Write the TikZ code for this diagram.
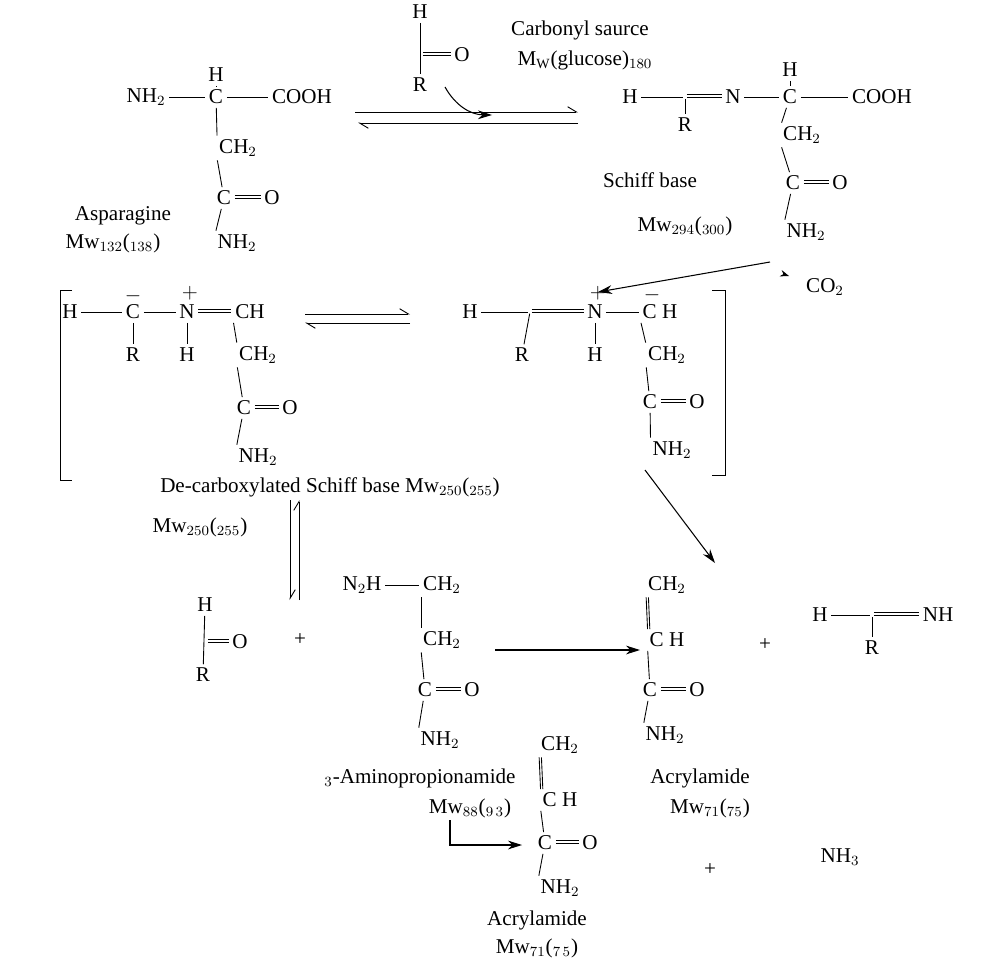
\documentclass[tikz,border=0pt]{standalone}
\usepackage{fontspec}
\setmainfont{Liberation Serif}
\usetikzlibrary{arrows.meta}
\tikzset{
  atm/.style={inner sep=1pt, font=\fontsize{12}{14}\selectfont},
  lbl/.style={inner sep=1pt, font=\fontsize{12}{14}\selectfont},
  bd/.style={line width=0.5pt, shorten <=1pt, shorten >=1pt},
  dbh/.style={bd, transform canvas={yshift=1.3pt}, postaction={draw, transform canvas={yshift=-1.3pt}}},
  dbv/.style={bd, transform canvas={xshift=1.3pt}, postaction={draw, transform canvas={xshift=-1.3pt}}},
  rx/.style={-{Stealth[length=8pt,width=5pt]}, line width=0.6pt},
  hp/.style={-{Straight Barb[left,length=5pt,width=6pt]}, line width=0.5pt},
}
\begin{document}
\begin{tikzpicture}[x=0.02cm, y=-0.02cm]
	\useasboundingbox (0,0) rectangle (1006,963);
	% Asparagine
	\node[atm](a1) at (146,97){NH$_2$};
	\node[atm](a2) at (216,97){C};
	\node[atm](a3) at (216,75){H};
	\node[atm](a4) at (302,97){COOH};
	\node[atm](a5) at (238,148){CH$_2$};
	\node[atm](a6) at (224,198){C};
	\node[atm](a7) at (272,198){O};
	\node[atm](a8) at (237,243){NH$_2$};
	\node[lbl] at (123,216){Asparagine};
	\node[lbl] at (113,243){Mw$_{132}$($_{138}$)};
	\draw[bd] (a1) -- (a2); \draw[bd] (a2) -- (a4); \draw[bd] (a3) -- (a2);
	\draw[bd] (a2) -- (a5.north west); \draw[bd] (a5.south west) -- (a6);
	\draw[dbh] (a6) -- (a7); \draw[bd] (a6) -- (a8.north west);
	% carbonyl source
	\node[atm](b1) at (420,12){H};
	\node[atm](b3) at (462,55){O};
	\node[atm](b4) at (420,85){R};
	\coordinate (b2) at (421,55);
	\draw[bd] (b1) -- (b4); \draw[dbh] (b2) -- (b3);
	\node[lbl] at (580,30){Carbonyl saurce};
	\node[lbl] at (585,60){M$_\mathrm{W}$(glucose)$_{180}$};
	\coordinate (c1) at (445,87); \coordinate (c2) at (492,115);
	\draw[rx] (c1) to[bend right=30] (c2);
	\coordinate (e1) at (355,112); \coordinate (e2) at (578,112);
	\coordinate (e3) at (578,123); \coordinate (e4) at (358,123);
	\draw[hp] (e1) -- (e2); \draw[hp] (e3) -- (e4);
	% Schiff base
	\node[atm](s1) at (630,97){H};
	\coordinate (s2) at (685,97);
	\node[atm](s3) at (685,125){R};
	\node[atm](s4) at (733,97){N};
	\node[atm](s5) at (790,97){C};
	\node[atm](s6) at (790,70){H};
	\node[atm](s7) at (882,97){COOH};
	\node[atm](s8) at (802,135){CH$_2$};
	\node[atm](s9) at (793,183){C};
	\node[atm](s10) at (840,183){O};
	\node[atm](s11) at (806,232){NH$_2$};
	\node[lbl] at (650,180){Schiff base};
	\node[lbl] at (685,226){Mw$_{294}$($_{300}$)};
	\draw[bd] (s1) -- (s2); \draw[dbh] (s2) -- (s4); \draw[bd] (s2) -- (s3);
	\draw[bd] (s4) -- (s5); \draw[bd] (s5) -- (s7); \draw[bd] (s6) -- (s5);
	\draw[bd] (s5) -- (s8.north west); \draw[bd] (s8.south west) -- (s9);
	\draw[dbh] (s9) -- (s10); \draw[bd] (s9) -- (s11.north west);
	\coordinate (f1) at (770,262); \coordinate (f2) at (598,292);
	\draw[rx] (f1) -- (f2);
	\node[lbl](co) at (825,287){CO$_2$};
	\coordinate (g1) at (783,274);
	\draw[-{Stealth[length=5pt]}] (g1) -- ++(6,2);
	% left bracket
	\draw[line width=0.5pt] (72,290) -- (60,290) -- (60,480) -- (72,480);
	\node[atm](l1) at (70,312){H};
	\node[atm](l2) at (133,312){C};
	\node[atm] at (133,296){$-$};
	\node[atm](l3) at (133,355){R};
	\node[atm](l4) at (187,312){N};
	\node[atm] at (190,293){$+$};
	\node[atm](l5) at (187,355){H};
	\node[atm](l6) at (250,312){CH};
	\node[atm](l7) at (258,355){CH$_2$};
	\node[atm](l8) at (244,408){C};
	\node[atm](l9) at (290,408){O};
	\node[atm](l10) at (258,457){NH$_2$};
	\draw[bd] (l1) -- (l2); \draw[bd] (l2) -- (l4); \draw[dbh] (l4) -- (l6);
	\draw[bd] (l2) -- (l3); \draw[bd] (l4) -- (l5);
	\draw[bd] (l6.south west) -- (l7.north west); \draw[bd] (l7.south west) -- (l8);
	\draw[dbh] (l8) -- (l9); \draw[bd] (l8) -- (l10.north west);
	\node[lbl] at (330,487){De-carboxylated Schiff base Mw$_{250}$($_{255}$)};
	\coordinate (h1) at (305,314); \coordinate (h2) at (410,314);
	\coordinate (h3) at (410,323); \coordinate (h4) at (305,323);
	\draw[hp] (h1) -- (h2); \draw[hp] (h3) -- (h4);
	% right bracket
	\node[atm](r1) at (470,312){H};
	\coordinate (r2) at (530,312);
	\node[atm](r3) at (522,355){R};
	\node[atm](r4) at (595,312){N};
	\node[atm] at (598,293){$+$};
	\node[atm](r5) at (595,355){H};
	\node[atm](r6) at (660,312){C H};
	\node[atm] at (652,295){$-$};
	\node[atm](r7) at (667,355){CH$_2$};
	\node[atm](r8) at (650,402){C};
	\node[atm](r9) at (697,402){O};
	\node[atm](r10) at (672,450){NH$_2$};
	\draw[bd] (r1) -- (r2); \draw[dbh] (r2) -- (r4); \draw[bd] (r2) -- (r3);
	\draw[bd] (r4) -- (r6); \draw[bd] (r4) -- (r5);
	\draw[bd] (r6.south west) -- (r7.north west); \draw[bd] (r7.south west) -- (r8);
	\draw[dbh] (r8) -- (r9); \draw[bd] (r8) -- (r10.north west);
	\draw[line width=0.5pt] (712,290) -- (725,290) -- (725,475) -- (712,475);
	\coordinate (k1) at (645,470); \coordinate (k2) at (715,563);
	\draw[rx] (k1) -- (k2);
	\node[lbl] at (200,527){Mw$_{250}$($_{255}$)};
	\coordinate (v1) at (290,500); \coordinate (v2) at (290,600);
	\coordinate (v3) at (299,600); \coordinate (v4) at (299,500);
	\draw[hp] (v1) -- (v2); \draw[hp] (v3) -- (v4);
	% lower row
	\node[atm](m1) at (205,605){H};
	\coordinate (m2) at (206,642);
	\node[atm](m3) at (240,642){O};
	\node[atm](m4) at (203,675){R};
	\draw[bd] (m1) -- (m4); \draw[dbh] (m2) -- (m3);
	\node[atm] at (300,640){+};
	\node[atm](n1) at (362,585){N$_2$H};
	\node[atm](n2) at (442,585){CH$_2$};
	\node[atm](n3) at (442,640){CH$_2$};
	\node[atm](n4) at (425,690){C};
	\node[atm](n5) at (472,690){O};
	\node[atm](n6) at (440,740){NH$_2$};
	\draw[bd] (n1) -- (n2); \draw[bd] (n2.south west) -- (n3.north west);
	\draw[bd] (n3.south west) -- (n4); \draw[dbh] (n4) -- (n5); \draw[bd] (n4) -- (n6.north west);
	\node[lbl] at (420,778){$_3$-Aminopropionamide};
	\node[lbl] at (470,808){Mw$_{88}$($_{9\,3}$)};
	\coordinate (p1) at (495,650); \coordinate (p2) at (640,650);
	\draw[rx] (p1) -- (p2);
	\node[atm](q1) at (667,585){CH$_2$};
	\node[atm](q2) at (667,640){C H};
	\node[atm](q3) at (650,690){C};
	\node[atm](q4) at (697,690){O};
	\node[atm](q5) at (665,735){NH$_2$};
	\draw[dbv] (q1.south west) -- (q2.north west); \draw[bd] (q2.south west) -- (q3);
	\draw[dbh] (q3) -- (q4); \draw[bd] (q3) -- (q5.north west);
	\node[lbl] at (700,778){Acrylamide};
	\node[lbl] at (710,808){Mw$_{71}$($_{75}$)};
	\node[atm] at (765,645){+};
	\node[atm](t1) at (820,615){H};
	\coordinate (t0) at (872,615);
	\node[atm](t2) at (938,615){NH};
	\node[atm](t3) at (872,648){R};
	\draw[bd] (t1) -- (t0); \draw[dbh] (t0) -- (t2); \draw[bd] (t0) -- (t3);
	% bottom acrylamide
	\node[atm](u1) at (560,745){CH$_2$};
	\node[atm](u2) at (560,800){C H};
	\node[atm](u3) at (545,843){C};
	\node[atm](u4) at (590,843){O};
	\node[atm](u5) at (560,888){NH$_2$};
	\draw[dbv] (u1.south west) -- (u2.north west); \draw[bd] (u2.south west) -- (u3);
	\draw[dbh] (u3) -- (u4); \draw[bd] (u3) -- (u5.north west);
	\node[lbl] at (537,920){Acrylamide};
	\node[lbl] at (537,948){Mw$_{71}$($_{7\,5}$)};
	\coordinate (w1) at (450,820); \coordinate (w2) at (522,845);
	\draw[rx] (w1) |- (w2);
	\node[atm] at (710,870){+};
	\node[atm] at (840,857){NH$_3$};
\end{tikzpicture}
\end{document}
